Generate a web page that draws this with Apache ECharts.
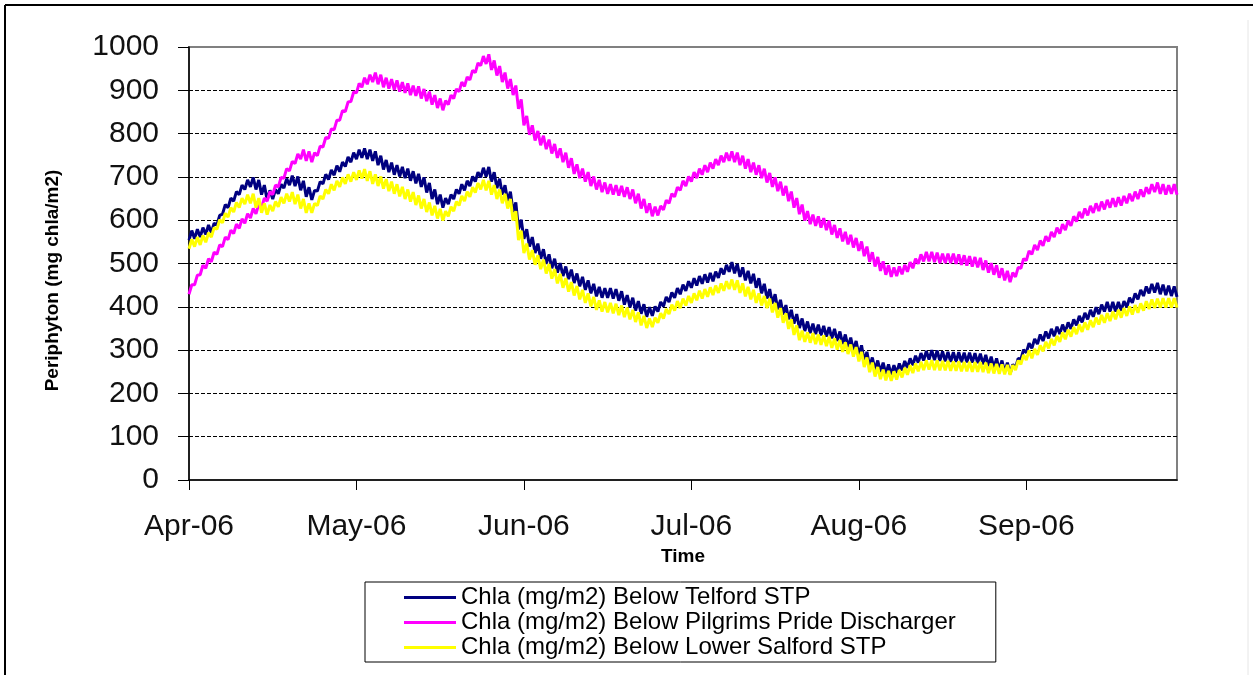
<!DOCTYPE html>
<html><head><meta charset="utf-8">
<script src="https://cdn.jsdelivr.net/npm/echarts@6/dist/echarts.min.js"></script>
<style>html,body{margin:0;padding:0;background:#fff}#c{width:1253px;height:675px}</style>
</head><body><div id="c"></div>
<script>
// Tick labels of the time axis (one per month start)
const monthLabels = ['Apr-06','May-06','Jun-06','Jul-06','Aug-06','Sep-06'];
// Series names
const nameTelford = 'Chla (mg/m2) Below Telford STP';
const namePilgrims = 'Chla (mg/m2) Below Pilgrims Pride Discharger';
const nameSalford = 'Chla (mg/m2) Below Lower Salford STP';
// Samples every 12 hours starting 1 Apr 2006 00:00
const startUTC = Date.UTC(2006, 3, 1);
const stepHours = 12;

const telford = [
554,576,557,579,561,583,567,589,571,593,589,611,614,636,629,651,644,666,659,681,
671,693,677,699,671,693,659,681,647,669,649,671,661,683,674,696,681,703,679,701,
669,691,654,676,647,669,667,689,684,706,694,716,704,726,712,734,724,746,734,756,
741,763,744,766,741,763,737,759,727,749,717,739,711,733,705,727,701,723,697,719,
691,713,685,707,677,699,664,686,649,671,637,659,629,651,637,659,649,671,661,683,
669,691,679,701,689,711,699,721,701,723,689,711,674,696,659,681,644,666,619,641,
579,601,557,579,539,561,524,546,511,533,499,521,489,511,479,501,471,493,464,486,
455,477,447,469,439,461,431,453,424,446,421,443,421,443,419,441,414,436,405,427,
399,421,391,413,384,406,377,399,379,401,389,411,401,423,411,433,421,443,429,451,
437,459,444,466,449,471,453,475,456,478,459,481,467,489,475,497,481,503,477,499,
469,491,461,483,454,476,444,466,431,453,419,441,407,429,394,416,382,404,371,393,
361,383,351,373,344,366,339,361,337,359,334,356,331,353,327,349,321,343,314,336,
307,329,299,321,289,311,274,296,261,283,254,276,249,271,245,267,243,265,247,269,
253,275,259,281,265,287,271,293,276,298,278,300,277,299,275,297,274,296,273,295,
273,295,272,294,272,294,271,293,270,292,267,289,263,285,259,281,254,276,249,271,
245,267,259,281,279,301,294,316,304,326,314,336,321,343,327,349,332,354,337,359,
342,364,349,371,357,379,364,386,371,393,377,399,383,405,389,411,389,411,389,411,
391,413,399,421,409,431,417,439,425,447,431,453,433,455,429,451,427,449,425,447,
423
];

const pilgrims = [
429,451,451,473,474,496,489,511,504,526,521,543,539,561,555,577,569,591,581,603,
593,615,605,627,615,637,629,651,644,666,659,681,677,699,697,719,714,736,731,753,
741,763,737,759,734,756,749,771,769,791,789,811,809,831,831,853,851,873,874,896,
894,916,907,929,914,936,919,941,914,936,907,929,904,926,901,923,897,919,894,916,
889,911,887,909,881,903,875,897,867,889,859,881,854,876,867,889,881,903,897,919,
909,931,924,946,941,963,957,979,961,983,947,969,934,956,919,941,904,926,889,911,
857,879,819,841,797,819,784,806,773,795,764,786,754,776,744,766,734,756,721,743,
707,729,697,719,689,711,679,701,671,693,665,687,661,683,659,681,657,679,654,676,
649,671,639,661,627,649,617,639,609,631,611,633,624,646,639,661,654,676,669,691,
679,701,689,711,697,719,705,727,711,733,719,741,727,749,734,756,737,759,734,756,
727,749,719,741,711,733,705,727,697,719,687,709,677,699,667,689,657,679,644,666,
629,651,614,636,599,621,591,613,587,609,583,605,577,599,567,589,559,581,551,573,
544,566,537,559,529,551,517,539,504,526,493,515,483,505,474,496,469,491,471,493,
475,497,481,503,489,511,499,521,505,527,505,527,503,525,501,523,501,523,501,523,
499,521,497,519,495,517,493,515,491,513,485,507,479,501,474,496,467,489,461,483,
457,479,469,491,489,511,507,529,521,543,531,553,541,563,551,573,561,583,569,591,
577,599,587,609,597,619,605,627,611,633,617,639,621,643,625,647,629,651,631,653,
634,656,639,661,644,666,649,671,654,676,661,683,665,687,661,683,659,681,661,683,
659
];

const salford = [
534,556,539,561,543,565,549,571,561,583,579,601,594,616,607,629,619,641,629,651,
637,659,639,661,629,651,617,639,613,635,621,643,631,653,639,661,643,665,637,659,
627,649,617,639,617,639,634,656,649,671,661,683,669,691,677,699,684,706,689,711,
693,715,696,718,691,713,684,706,679,701,673,695,667,689,661,683,655,677,649,671,
643,665,635,657,627,649,619,641,611,633,604,626,599,621,609,631,621,643,634,656,
644,666,654,676,664,686,671,693,669,691,659,681,649,671,639,661,627,649,599,621,
554,576,524,546,509,531,497,519,487,509,477,499,465,487,454,476,444,466,435,457,
426,448,417,439,409,431,401,423,393,415,389,411,387,409,385,407,381,403,376,398,
371,393,365,387,357,379,351,373,353,375,363,385,373,395,383,405,391,413,397,419,
403,425,409,431,415,437,419,441,423,445,427,449,432,454,437,459,441,463,439,461,
432,454,424,446,417,439,409,431,403,425,397,419,387,409,375,397,363,385,349,371,
335,357,323,345,319,341,317,339,314,336,312,334,309,331,305,327,301,323,296,318,
291,313,285,307,274,296,261,283,249,271,239,261,233,255,230,252,229,251,232,254,
237,259,243,265,247,269,251,273,254,276,255,277,254,276,253,275,253,275,252,274,
252,274,251,273,251,273,250,272,250,272,249,271,247,269,246,268,245,267,244,266,
243,265,254,276,267,289,277,299,281,303,289,311,297,319,304,326,311,333,319,341,
325,347,331,353,337,359,342,364,347,369,353,375,359,381,363,385,367,389,371,393,
375,397,379,401,382,404,386,408,391,413,395,417,397,419,398,420,398,420,398,420,
398
];

// Position on the month axis: integer part = month index from April, fraction = share of that month elapsed
function monthPos(i) {
  const ms = startUTC + i * stepHours * 3600000;
  const d = new Date(ms);
  const y = d.getUTCFullYear(), m = d.getUTCMonth();
  const m0 = Date.UTC(y, m, 1), m1 = Date.UTC(y, m + 1, 1);
  return (y - 2006) * 12 + (m - 3) + (ms - m0) / (m1 - m0);
}
function toPairs(arr) { return arr.map((v, i) => [monthPos(i), v]); }

const xMax = monthPos(telford.length - 1);
const tickVals = monthLabels.map((_, i) => i);

const chart = echarts.init(document.getElementById('c'), null, {renderer: 'canvas'});
const FONT = '"Liberation Sans", Arial, sans-serif';

chart.setOption({
  animation: false,
  backgroundColor: '#fff',
  textStyle: {fontFamily: FONT},
  graphic: [
    {type: 'line', shape: {x1: 5, y1: 5, x2: 1253, y2: 5}, style: {stroke: '#000', lineWidth: 2}},
    {type: 'line', shape: {x1: 5, y1: 5, x2: 5, y2: 675}, style: {stroke: '#000', lineWidth: 2}},
    {type: 'line', shape: {x1: 1248, y1: 20, x2: 1248, y2: 675}, style: {stroke: '#e6e6e6', lineWidth: 1}}
  ],
  grid: {left: 189, right: 76, top: 47, bottom: 195, show: true, borderColor: '#808080', borderWidth: 2, backgroundColor: 'transparent'},
  legend: {
    orient: 'vertical', left: 365, top: 582,
    padding: [3, 40, 2, 39],
    borderColor: '#000', borderWidth: 1, backgroundColor: '#fff',
    itemGap: 0, itemWidth: 52, itemHeight: 3, icon: 'rect',
    textStyle: {fontSize: 24, lineHeight: 25, color: '#000', fontFamily: FONT},
    data: [nameTelford, namePilgrims, nameSalford]
  },
  xAxis: {
    type: 'value', min: 0, max: xMax, interval: 1,
    name: 'Time', nameLocation: 'middle', nameGap: 57,
    nameTextStyle: {fontSize: 19, fontWeight: 'bold', color: '#000', fontFamily: FONT},
    axisLine: {show: true, onZero: false, lineStyle: {color: '#000', width: 1.5}},
    axisTick: {show: true, inside: false, length: 10, lineStyle: {color: '#000', width: 1}, customValues: tickVals},
    axisLabel: {fontSize: 30, color: '#111', margin: 32, fontFamily: FONT, customValues: tickVals,
      formatter: v => monthLabels[Math.round(v)] || ''},
    splitLine: {show: false}
  },
  yAxis: {
    type: 'value', min: 0, max: 1000, interval: 100,
    name: 'Periphyton (mg chla/m2)', nameLocation: 'middle', nameGap: 127, nameRotate: 90,
    nameTextStyle: {fontSize: 19, fontWeight: 'bold', color: '#000', fontFamily: FONT, padding: [0, 34, 0, 0]},
    axisLine: {show: true, lineStyle: {color: '#000', width: 1.5}},
    axisTick: {show: true, inside: false, length: 11, lineStyle: {color: '#000', width: 1}},
    axisLabel: {fontSize: 30, color: '#111', margin: 30, fontFamily: FONT, formatter: v => String(v)},
    splitLine: {show: true, showMinLine: false, showMaxLine: false, lineStyle: {color: '#000', width: 1, type: [4, 2]}}
  },
  series: [
    {name: nameTelford, type: 'line', data: toPairs(telford), showSymbol: false, symbol: 'none',
      lineStyle: {color: '#000080', width: 3}, itemStyle: {color: '#000080'}},
    {name: namePilgrims, type: 'line', data: toPairs(pilgrims), showSymbol: false, symbol: 'none',
      lineStyle: {color: '#ff00ff', width: 3}, itemStyle: {color: '#ff00ff'}},
    {name: nameSalford, type: 'line', data: toPairs(salford), showSymbol: false, symbol: 'none',
      lineStyle: {color: '#ffff00', width: 3}, itemStyle: {color: '#ffff00'}}
  ]
});
</script>
</body></html>
